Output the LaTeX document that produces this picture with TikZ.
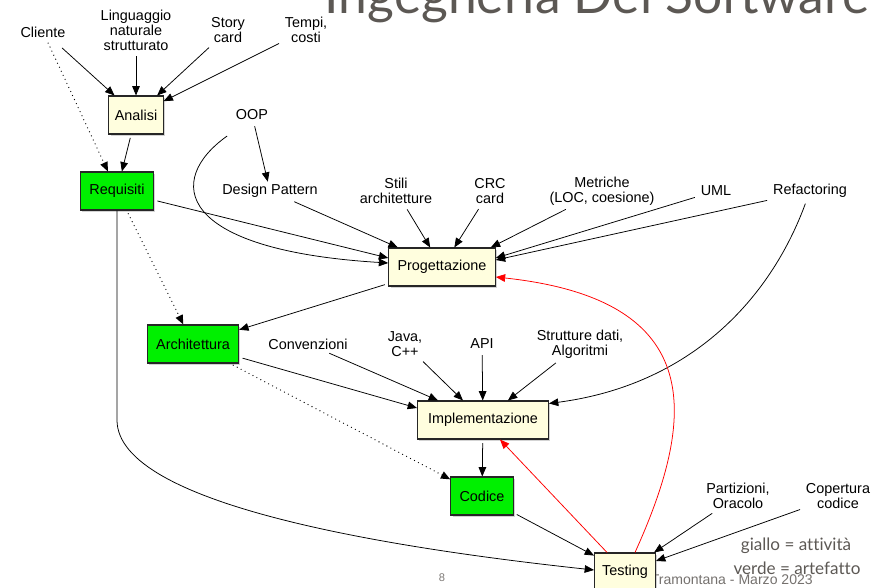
\documentclass[tikz,border=0pt]{standalone}
\usepackage{fontspec}
\setmainfont{Liberation Sans}
\newfontfamily\titlefont[Ligatures=NoCommon]{Lato}
\usetikzlibrary{calc,arrows.meta,shadows}

\definecolor{attivita}{RGB}{255,254,222}
\definecolor{artefatto}{RGB}{0,240,0}
\definecolor{grigio}{RGB}{92,88,84}

\tikzset{
  activity/.style={draw=black!85, line width=0.9pt, fill=attivita, minimum height=1.14cm,
    inner xsep=7.5pt, drop shadow={shadow xshift=1.5pt, shadow yshift=-1.5pt, opacity=0.35}},
  artifact/.style={activity, fill=artefatto},
  label/.style={align=center, inner sep=2pt},
  arr/.style={-{Triangle[length=8pt,width=6.5pt]}, line width=0.65pt, shorten <=3pt},
  dotarr/.style={arr, line width=1.1pt, line cap=round, dash pattern=on 0pt off 3.8pt},
  redarr/.style={arr, draw=red, -{Triangle[length=8pt,width=6.5pt,fill=red]}}
}

\begin{document}
\begin{tikzpicture}[x=0.03cm, y=-0.03cm, font=\fontsize{12.3}{12.8}\selectfont]
  \useasboundingbox (0,0) rectangle (892,588);
  \clip (0,0) rectangle (892,588);

  % Title and footer
  \node[anchor=base, text=grigio, inner sep=0pt, font=\titlefont\fontsize{44}{48}\selectfont] (titolo) at (597,13) {Ingegneria Del Software};
  \node[text=grigio!80, font=\fontsize{9.5}{10}\selectfont] (pagina) at (442,578) {8};
  \node[anchor=east, text=grigio!85, inner sep=0pt, font=\fontsize{12}{13}\selectfont] (autore) at (813,580) {Tramontana - Marzo 2023};
  \node[text=grigio, font=\titlefont\fontsize{14.6}{15}\selectfont] (giallo) at (796,546) {giallo = attività};
  \node[text=grigio, font=\titlefont\fontsize{14.6}{15}\selectfont] (verde) at (797,568) {verde = artefatto};

  % Inputs
  \node[label] (cliente) at (43,32) {Cliente};
  \node[label] (linguaggio) at (136,30) {Linguaggio\\naturale\\strutturato};
  \node[label] (story) at (228,30) {Story\\card};
  \node[label] (tempi) at (306,30) {Tempi,\\costi};
  \node[label] (oop) at (252,115) {OOP};
  \node[label] (design) at (270,191) {Design Pattern};
  \node[label] (stili) at (396,191) {Stili\\architetture};
  \node[label] (crc) at (490,191) {CRC\\card};
  \node[label] (metriche) at (602,191) {Metriche\\(LOC, coesione)};
  \node[label] (uml) at (716,191) {UML};
  \node[label] (refactoring) at (810,191) {Refactoring};
  \node[label] (convenzioni) at (308,344) {Convenzioni};
  \node[label] (java) at (405,344) {Java,\\C++};
  \node[label] (api) at (482,344) {API};
  \node[label] (strutture) at (580,344) {Strutture dati,\\Algoritmi};
  \node[label] (partizioni) at (738,496) {Partizioni,\\Oracolo};
  \node[label] (copertura) at (838,496) {Copertura\\codice};

  % Activities and artifacts
  \node[activity, inner xsep=5pt] (analisi) at (136,115) {Analisi};
  \node[artifact] (requisiti) at (117,191) {Requisiti};
  \node[activity] (progettazione) at (442,267) {Progettazione};
  \node[artifact] (architettura) at (193,344) {Architettura};
  \node[activity, inner xsep=9pt] (implementazione) at (483,420) {Implementazione};
  \node[artifact] (codice) at (482,496) {Codice};
  \node[activity, inner xsep=6.5pt] (testing) at (625,572) {Testing};

  % Analisi
  \draw[arr, shorten <=0pt] ($(cliente.south east)+(-6,8)$) -- (analisi);
  \draw[arr] (linguaggio) -- (analisi);
  \draw[arr] (story) -- (analisi);
  \draw[arr] (tempi) -- (analisi);
  \draw[dotarr] (cliente) -- (requisiti);
  \draw[arr] (analisi) -- (requisiti);

  % Progettazione
  \draw[arr] (oop) -- (design);
  \draw[arr] ($(oop)+(-22,19)$) .. controls (165,180) and (175,250) .. ($(progettazione.west)+(0,-4)$);
  \draw[arr] (requisiti) -- ($(progettazione.west)+(0,-9)$);
  \draw[arr] (design) -- (progettazione);
  \draw[arr] (stili) -- (progettazione);
  \draw[arr] (crc) -- (progettazione);
  \draw[arr] (metriche) -- ($(progettazione.north east)+(-5,0)$);
  \draw[arr] (uml) -- ($(progettazione.east)+(0,-9)$);
  \draw[arr] (refactoring) -- ($(progettazione.east)+(0,-7)$);
  \draw[arr] (progettazione) -- (architettura);
  \draw[dotarr] (requisiti) -- (architettura);

  % Implementazione
  \draw[arr] (refactoring) .. controls (770,300) and (690,385) .. ($(implementazione.north east)+(0,3)$);
  \draw[arr] (architettura) -- ($(implementazione.west)+(0,-12)$);
  \draw[arr] (convenzioni) -- (implementazione);
  \draw[arr] (java) -- (implementazione);
  \draw[arr] (api) -- (implementazione);
  \draw[arr] (strutture) -- (implementazione);
  \draw[arr] (implementazione) -- (codice);
  \draw[dotarr] (architettura) -- (codice);

  % Testing
  \draw[arr, shorten <=0pt] (requisiti.south) -- (117,420) .. controls (117,505) and (390,548) .. ($(testing.west)+(0,-2)$);
  \draw[arr] (codice) -- (testing);
  \draw[arr] (partizioni) -- (testing);
  \draw[arr] (copertura) -- (testing);
  \draw[redarr, shorten <=0pt] ($(testing.north west)+(13,0)$) -- ($(implementazione.south)+(17,0)$);
  \draw[redarr, shorten <=0pt] ($(testing.north)+(10,0)$) .. controls (695,420) and (710,300) .. ($(progettazione.east)+(0,10)$);
\end{tikzpicture}
\end{document}
